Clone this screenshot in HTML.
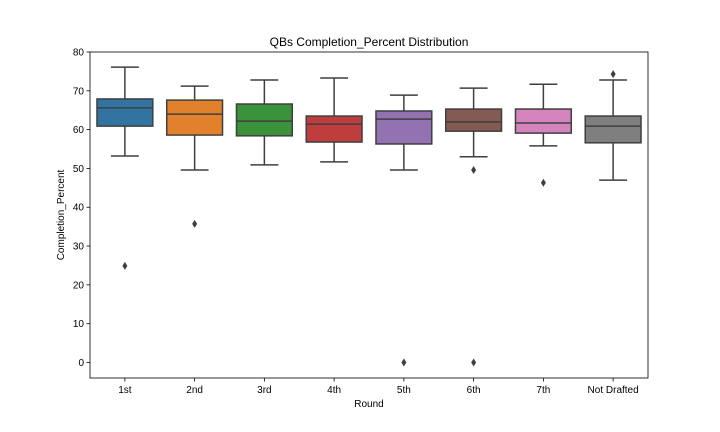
<!DOCTYPE html>
<html><head><meta charset="utf-8"><style>
html,body{margin:0;padding:0;background:#fff;}
svg{display:block;font-family:"Liberation Sans","DejaVu Sans",sans-serif;}
</style></head><body>
<svg id="chart" width="720" height="432" viewBox="0 0 720 432" xmlns="http://www.w3.org/2000/svg">
<rect x="0" y="0" width="720" height="432" fill="#fff"/>
<text x="369" y="46" text-anchor="middle" font-size="12" fill="#000">QBs Completion_Percent Distribution</text>
<text x="369" y="407" text-anchor="middle" font-size="10" fill="#000">Round</text>
<text transform="translate(64,215) rotate(-90)" text-anchor="middle" font-size="10" fill="#000">Completion_Percent</text>
<g id="marks"></g>
<rect x="90" y="52" width="558" height="326" fill="none" stroke="#000" stroke-width="0.8"/>
</svg>
<script>
const categories = ["1st","2nd","3rd","4th","5th","6th","7th","Not Drafted"];
const whiskerHigh = [76.1,71.2,72.8,73.3,68.9,70.7,71.7,72.8];
const q3Values = [67.9,67.6,66.6,63.5,64.8,65.3,65.3,63.5];
const medianValues = [65.6,64.0,62.2,61.4,62.7,62.0,61.7,60.9];
const q1Values = [60.9,58.6,58.4,56.8,56.3,59.6,59.1,56.6];
const whiskerLow = [53.2,49.6,50.9,51.7,49.6,53.0,55.8,47.0];
const outliers = [[24.9],[35.7],[],[],[0],[49.6,0],[46.3],[74.3]];
const yTicks = [0,10,20,30,40,50,60,70,80];
const colors = ["#3274a1","#e1812c","#3a923a","#c03d3e","#9372b2","#845b53","#d684bd","#7f7f7f"];

const X0=90,X1=648,Y0=52,Y1=378,YMIN=-4,YMAX=80;
const step=(X1-X0)/categories.length;
const xPos=i=>X0+step*(i+0.5);
const yPos=v=>Y1-(v-YMIN)/(YMAX-YMIN)*(Y1-Y0);
const NS="http://www.w3.org/2000/svg";
const g=document.getElementById('marks');
function mk(tag,attrs,parent){const e=document.createElementNS(NS,tag);for(const k in attrs)e.setAttribute(k,attrs[k]);(parent||g).appendChild(e);return e;}
const LC="#3f3f3f";
yTicks.forEach(t=>{
  const y=yPos(t);
  const l=mk('line',{x1:X0-3.5,x2:X0,y1:y,y2:y,stroke:'#000','stroke-width':0.8});
  
  
  const tx=mk('text',{x:X0-6,y:y+3.5,'text-anchor':'end','font-size':10,fill:'#000'});
  tx.textContent=t;
  
  
});
categories.forEach((c,i)=>{
  const cx=xPos(i), w=step*0.8, hw=w/2, cap=w/4;
  const grp=mk('g',{});
  
  
  mk('line',{x1:cx,x2:cx,y1:yPos(whiskerHigh[i]),y2:yPos(q3Values[i]),stroke:LC,'stroke-width':1.5},grp);
  mk('line',{x1:cx,x2:cx,y1:yPos(q1Values[i]),y2:yPos(whiskerLow[i]),stroke:LC,'stroke-width':1.5},grp);
  mk('line',{x1:cx-cap,x2:cx+cap,y1:yPos(whiskerHigh[i]),y2:yPos(whiskerHigh[i]),stroke:LC,'stroke-width':1.5},grp);
  mk('line',{x1:cx-cap,x2:cx+cap,y1:yPos(whiskerLow[i]),y2:yPos(whiskerLow[i]),stroke:LC,'stroke-width':1.5},grp);
  mk('rect',{x:cx-hw,y:yPos(q3Values[i]),width:w,height:yPos(q1Values[i])-yPos(q3Values[i]),fill:colors[i],stroke:LC,'stroke-width':1.5},grp);
  mk('line',{x1:cx-hw,x2:cx+hw,y1:yPos(medianValues[i]),y2:yPos(medianValues[i]),stroke:LC,'stroke-width':1.5},grp);
  outliers[i].forEach(v=>{
    const y=yPos(v);
    const p=mk('path',{d:`M${cx} ${y-4}L${cx+2.5} ${y}L${cx} ${y+4}L${cx-2.5} ${y}Z`,fill:LC},grp);
    
    
  });
  const l=mk('line',{x1:cx,x2:cx,y1:Y1,y2:Y1+3.5,stroke:'#000','stroke-width':0.8});
  
  
  const tx=mk('text',{x:cx,y:Y1+15,'text-anchor':'middle','font-size':10,fill:'#000'});
  tx.textContent=c;
  
  
});
</script>
</body></html>
